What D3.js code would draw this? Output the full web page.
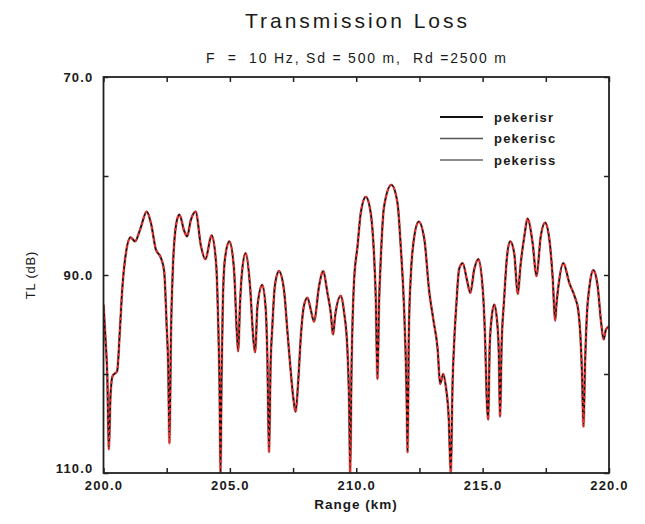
<!DOCTYPE html>
<html>
<head>
<meta charset="utf-8">
<script src="https://cdn.jsdelivr.net/npm/d3@7"></script>
<style>
  html, body { margin: 0; padding: 0; background: #fff; }
  svg { display: block; font-family: "Liberation Sans", Arial, Helvetica, sans-serif; }
</style>
</head>
<body>
<svg id="chart" width="645" height="524"></svg>
<script>
// ---- data ----
const rangeKm = [200.00,200.08,200.15,200.21,200.28,200.36,200.54,200.65,200.74,200.87,201.07,201.25,201.45,201.71,201.88,202.07,202.26,202.40,202.50,202.56,202.61,202.67,202.75,202.88,203.00,203.20,203.31,203.45,203.65,203.85,204.03,204.28,204.46,204.54,204.59,204.63,204.67,204.72,204.80,204.98,205.16,205.28,205.33,205.40,205.47,205.62,205.80,205.93,206.00,206.09,206.28,206.42,206.48,206.55,206.61,206.68,206.78,206.94,207.14,207.28,207.41,207.50,207.60,207.71,207.80,207.93,208.07,208.20,208.33,208.53,208.69,208.86,208.99,209.08,209.17,209.39,209.52,209.65,209.72,209.76,209.81,209.91,210.05,210.18,210.38,210.57,210.70,210.77,210.84,210.90,210.96,211.10,211.39,211.63,211.76,211.89,211.99,212.03,212.08,212.16,212.25,212.47,212.70,212.88,213.05,213.22,213.32,213.44,213.54,213.66,213.74,213.81,213.88,213.96,214.07,214.21,214.38,214.51,214.67,214.83,215.02,215.10,215.16,215.22,215.28,215.35,215.46,215.57,215.64,215.69,215.75,215.85,215.97,216.09,216.25,216.39,216.50,216.65,216.78,216.98,217.13,217.30,217.47,217.64,217.77,217.87,217.92,218.00,218.19,218.43,218.66,218.78,218.87,218.93,218.99,219.05,219.13,219.22,219.38,219.55,219.68,219.79,219.88,220.00];
const tlDb = [93.0,96.5,100.2,107.6,102.0,100.2,99.7,95.5,91.5,88.1,86.2,86.6,85.4,83.6,84.8,87.4,88.2,89.6,95.2,99.2,107.0,96.0,89.0,84.8,83.9,85.6,86.1,84.5,83.6,87.0,88.4,86.0,89.0,95.0,101.0,110.0,100.5,93.0,88.5,86.6,89.3,96.0,97.7,93.0,90.0,87.8,91.2,96.5,97.8,93.2,91.0,93.5,98.0,107.9,99.2,95.2,91.1,89.6,91.5,95.8,99.8,102.2,103.8,100.5,96.5,93.1,92.3,93.5,94.7,91.1,89.6,91.8,93.8,96.0,94.0,92.1,93.8,97.5,103.2,110.0,100.0,90.8,87.1,83.7,82.1,83.7,87.8,92.1,100.5,93.0,89.0,83.1,80.9,82.7,87.1,93.2,101.8,107.9,96.0,90.0,87.0,84.6,86.5,91.5,94.5,97.5,101.0,100.0,101.2,104.5,110.0,101.0,96.5,93.0,89.4,88.8,90.5,91.8,89.4,88.4,92.0,96.6,102.3,104.6,97.2,94.5,93.0,94.6,97.8,104.3,97.2,92.5,88.0,86.6,87.8,91.9,89.0,86.1,84.3,86.8,90.1,86.1,84.7,86.4,90.2,94.6,93.0,91.1,88.8,90.8,92.3,93.5,96.2,99.8,105.3,99.2,93.8,91.3,89.5,91.1,94.6,96.5,95.5,95.2];
// the three model runs coincide on the plot
const seriesNames = ["pekerisr", "pekerisc", "pekeriss"];
const xTicks = [200, 202.5, 205, 207.5, 210, 212.5, 215, 217.5, 220];
const xLabelTicks = [200, 205, 210, 215, 220];
const yTicks = [70, 80, 90, 100, 110];
const yLabelTicks = [70, 90, 110];
const titleText = "Transmission Loss";
const subtitleText = "F  =  10 Hz, Sd = 500 m,  Rd =2500 m";
const xTitle = "Range (km)";
const yTitle = "TL (dB)";

// ---- layout ----
const L = 103.5, R = 609, T = 77, B = 473;
const svg = d3.select("#chart");
const x = d3.scaleLinear().domain([200, 220]).range([L, R]);
const y = d3.scaleLinear().domain([70, 110]).range([T, B]);

const styles = {
  pekerisc: { stroke: "#f07070", width: 2.8, dash: null, opacity: 0.75, legendW: 1.7, legendC: "#555" },
  pekerisr: { stroke: "#111", width: 1.7, dash: null, opacity: 1, legendW: 2.0, legendC: "#111" },
  pekeriss: { stroke: "#e8332f", width: 1.7, dash: "3,3", opacity: 1, legendW: 1.4, legendC: "#666" }
};
const drawOrder = ["pekerisc", "pekerisr", "pekeriss"];

// titles
svg.append("text").attr("x", 356).attr("y", 28).attr("text-anchor", "middle")
  .attr("font-size", 21).attr("fill", "#1a1a1a").attr("textLength", 222).attr("lengthAdjust", "spacing")
  .text(titleText);
svg.append("text").attr("x", 356).attr("y", 63).attr("text-anchor", "middle")
  .attr("font-size", 14).attr("fill", "#1a1a1a").style("white-space", "pre")
  .attr("textLength", 300).attr("lengthAdjust", "spacing")
  .text(subtitleText);

// clip
svg.append("clipPath").attr("id", "clip").append("rect")
  .attr("x", L).attr("y", T).attr("width", R - L).attr("height", B - T + 0.5);

// curves
const data = rangeKm.map((r, i) => ({ r, v: tlDb[i] }));
const line = d3.line().x(d => x(d.r)).y(d => y(d.v)).curve(d3.curveMonotoneX);
const g = svg.append("g").attr("clip-path", "url(#clip)");
drawOrder.forEach(name => {
  const s = styles[name];
  g.append("path").datum(data).attr("d", line).attr("fill", "none")
    .attr("stroke", s.stroke).attr("stroke-width", s.width).attr("stroke-opacity", s.opacity)
    .attr("stroke-dasharray", s.dash).attr("stroke-linejoin", "round");
});

// axes (inside ticks)
const fmt = d3.format(".1f");
const axB = d3.axisBottom(x).tickValues(xTicks).tickSizeInner(-5).tickSizeOuter(0).tickPadding(8)
  .tickFormat(d => xLabelTicks.includes(d) ? fmt(d) : "");
const axT = d3.axisTop(x).tickValues(xTicks).tickSizeInner(-5).tickSizeOuter(0).tickFormat("");
const axL = d3.axisLeft(y).tickValues(yTicks).tickSizeInner(-5).tickSizeOuter(0).tickPadding(10)
  .tickFormat(d => yLabelTicks.includes(d) ? fmt(d) : "");
const axR = d3.axisRight(y).tickValues(yTicks).tickSizeInner(-5).tickSizeOuter(0).tickFormat("");

function styleAxis(sel) {
  sel.select(".domain").remove();
  sel.selectAll(".tick line").attr("stroke", "#222").attr("stroke-width", 1.5);
  sel.selectAll(".tick text").attr("fill", "#1a1a1a").attr("font-size", 13).attr("font-weight", "bold")
    .attr("letter-spacing", 1.2).attr("font-family", "'Liberation Sans', Arial, sans-serif");
}
svg.append("g").attr("transform", `translate(0,${B})`).call(axB).call(styleAxis);
svg.append("g").attr("transform", `translate(0,${T})`).call(axT).call(styleAxis);
const gl = svg.append("g").attr("transform", `translate(${L},0)`).call(axL).call(styleAxis);
gl.selectAll(".tick text").filter(d => d === 110).attr("dy", "-0.05em");
svg.append("g").attr("transform", `translate(${R},0)`).call(axR).call(styleAxis);

// frame
svg.append("rect").attr("x", L).attr("y", T).attr("width", R - L).attr("height", B - T)
  .attr("fill", "none").attr("stroke", "#222").attr("stroke-width", 1.8);

// axis titles
svg.append("text").attr("x", 356).attr("y", 509).attr("text-anchor", "middle")
  .attr("font-size", 13.5).attr("font-weight", "bold").attr("letter-spacing", 1).attr("fill", "#1a1a1a")
  .text(xTitle);
svg.append("text").attr("transform", `translate(35,${(T + B) / 2}) rotate(-90)`).attr("text-anchor", "middle")
  .attr("font-size", 13).attr("letter-spacing", 0.8).attr("fill", "#1a1a1a")
  .text(yTitle);

// legend
const lg = svg.append("g");
seriesNames.forEach((name, i) => {
  const yy = 117 + i * 21.5;
  const s = styles[name];
  lg.append("line").attr("x1", 440).attr("x2", 483).attr("y1", yy).attr("y2", yy)
    .attr("stroke", s.legendC).attr("stroke-width", s.legendW);
  lg.append("text").attr("x", 494).attr("y", yy).attr("dy", "0.35em")
    .attr("font-size", 13).attr("font-weight", "bold").attr("letter-spacing", 1.2).attr("fill", "#1a1a1a")
    .text(name);
});
</script>
</body>
</html>
